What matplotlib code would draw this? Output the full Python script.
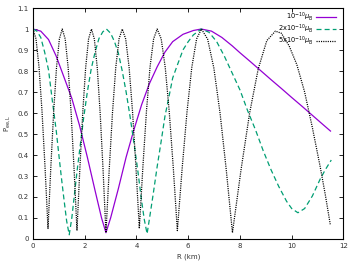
import matplotlib
matplotlib.use("Agg")
import matplotlib.pyplot as plt
from matplotlib.ticker import FuncFormatter

# values
r_a = [0.0, 0.3, 0.6, 0.9, 1.2, 1.5, 1.8, 2.1, 2.4, 2.65, 2.82, 3.0, 3.3, 3.6,
       3.9, 4.2, 4.5, 4.8, 5.1, 5.4, 5.8, 6.2, 6.5, 6.9, 7.3, 7.7, 8.0, 8.4,
       8.8, 9.2, 9.6, 10.0, 10.4, 10.8, 11.2, 11.5]
p_a = [1.0, 0.99, 0.95, 0.87, 0.77, 0.67, 0.54, 0.39, 0.23, 0.10, 0.03, 0.10,
       0.24, 0.39, 0.52, 0.64, 0.74, 0.82, 0.89, 0.94, 0.975, 0.993, 1.0, 0.99,
       0.96, 0.92, 0.887, 0.845, 0.802, 0.759, 0.717, 0.674, 0.632, 0.589,
       0.546, 0.514]

r_b = [0.0, 0.15, 0.3, 0.45, 0.6, 0.75, 0.9, 1.0, 1.1, 1.2, 1.3, 1.4, 1.5, 1.6,
       1.7, 1.8, 1.95, 2.1, 2.25, 2.4, 2.55, 2.7, 2.84, 3.0, 3.15, 3.3, 3.45,
       3.6, 3.75, 3.9, 4.05, 4.2, 4.3, 4.41, 4.5, 4.65, 4.8, 4.95, 5.1, 5.25,
       5.4, 5.6, 5.8, 6.0, 6.2, 6.5, 6.8, 7.1, 7.4, 7.7, 8.0, 8.3, 8.6, 8.9,
       9.2, 9.5, 9.8, 10.0, 10.24, 10.5, 10.8, 11.1, 11.3, 11.53]
p_b = [1.0, 0.99, 0.96, 0.89, 0.805, 0.656, 0.514, 0.40, 0.29, 0.186, 0.086,
       0.02, 0.10, 0.21, 0.32, 0.42, 0.57, 0.70, 0.81, 0.89, 0.955, 0.987, 1.0,
       0.98, 0.94, 0.885, 0.80, 0.70, 0.585, 0.46, 0.327, 0.18, 0.094, 0.025,
       0.095, 0.217, 0.345, 0.462, 0.584, 0.674, 0.767, 0.835, 0.901, 0.94,
       0.972, 1.0, 0.985, 0.94, 0.87, 0.79, 0.71, 0.61, 0.52, 0.42, 0.33, 0.25,
       0.18, 0.145, 0.125, 0.145, 0.205, 0.285, 0.33, 0.376]

r_c = [0.0, 0.116, 0.232, 0.348, 0.464, 0.58, 0.69, 0.80, 0.91, 1.02, 1.13,
       1.244, 1.358, 1.472, 1.586, 1.70, 1.812, 1.924, 2.036, 2.148, 2.26,
       2.372, 2.484, 2.596, 2.708, 2.82, 2.946, 3.072, 3.198, 3.324, 3.45,
       3.582, 3.714, 3.846, 3.978, 4.11, 4.248, 4.386, 4.524, 4.662, 4.80,
       4.956, 5.112, 5.268, 5.424, 5.58, 5.766, 5.952, 6.138, 6.324, 6.51,
       6.75, 6.99, 7.23, 7.47, 7.71, 8.042, 8.374, 8.706, 9.038, 9.37, 9.6,
       9.9, 10.2, 10.5, 10.8, 11.1, 11.3, 11.49]
p_c = [1.0, 0.953, 0.819, 0.609, 0.344, 0.05, 0.344, 0.609, 0.819, 0.953, 1.0,
       0.953, 0.817, 0.604, 0.337, 0.04, 0.337, 0.604, 0.817, 0.953, 1.0,
       0.952, 0.815, 0.600, 0.330, 0.03, 0.330, 0.600, 0.815, 0.952, 1.0,
       0.953, 0.819, 0.609, 0.344, 0.05, 0.344, 0.609, 0.819, 0.953, 1.0,
       0.953, 0.817, 0.604, 0.337, 0.04, 0.337, 0.604, 0.817, 0.953, 1.0,
       0.952, 0.815, 0.600, 0.330, 0.03, 0.33, 0.60, 0.81, 0.945, 0.99, 0.98,
       0.92, 0.83, 0.70, 0.53, 0.345, 0.21, 0.07]

labels = [r'10$^{-10}$$\mu_{\rm B}$', r'2x10$^{-10}$$\mu_{\rm B}$',
          r'5x10$^{-10}$$\mu_{\rm B}$']

fig = plt.figure(figsize=(3.56, 2.67), dpi=100)
ax = fig.add_axes([0.0927, 0.1049, 0.872, 0.865])

ax.plot(r_a, p_a, color='#9400D3', lw=0.9, label=labels[0])
ax.plot(r_b, p_b, color='#009E73', lw=0.9, dashes=(4, 2.5), label=labels[1])
ax.plot(r_c, p_c, color='black', lw=0.9, dashes=(0.9, 0.9), label=labels[2])

ax.set_xlim(0, 12)
ax.set_ylim(0, 1.1)
ax.set_xticks(range(0, 13, 2))
ax.set_yticks([i / 10 for i in range(12)])
ax.yaxis.set_major_formatter(FuncFormatter(lambda v, p: '%g' % round(v, 1)))
ax.tick_params(direction='in', length=3, width=0.6, labelsize=5,
               top=True, right=True, labelcolor='#333333', pad=3)
for s in ax.spines.values():
    s.set_linewidth(0.8)

ax.set_xlabel('R (km)', fontsize=5, color='#333333', labelpad=3)
ax.set_ylabel(r'P$_{\rm ee,L}$', fontsize=5, color='#333333', labelpad=4)

leg = ax.legend(loc='upper right', frameon=False, fontsize=4.8,
                markerfirst=False, handlelength=3.0, handletextpad=0.4,
                labelspacing=-0.1, borderaxespad=0.0,
                bbox_to_anchor=(0.985, 1.0))
# right-align the legend texts next to their samples, as gnuplot does
for col in leg._legend_box._children[1]._children:
    col.align = 'right'

fig.savefig('out.png', dpi=100)
